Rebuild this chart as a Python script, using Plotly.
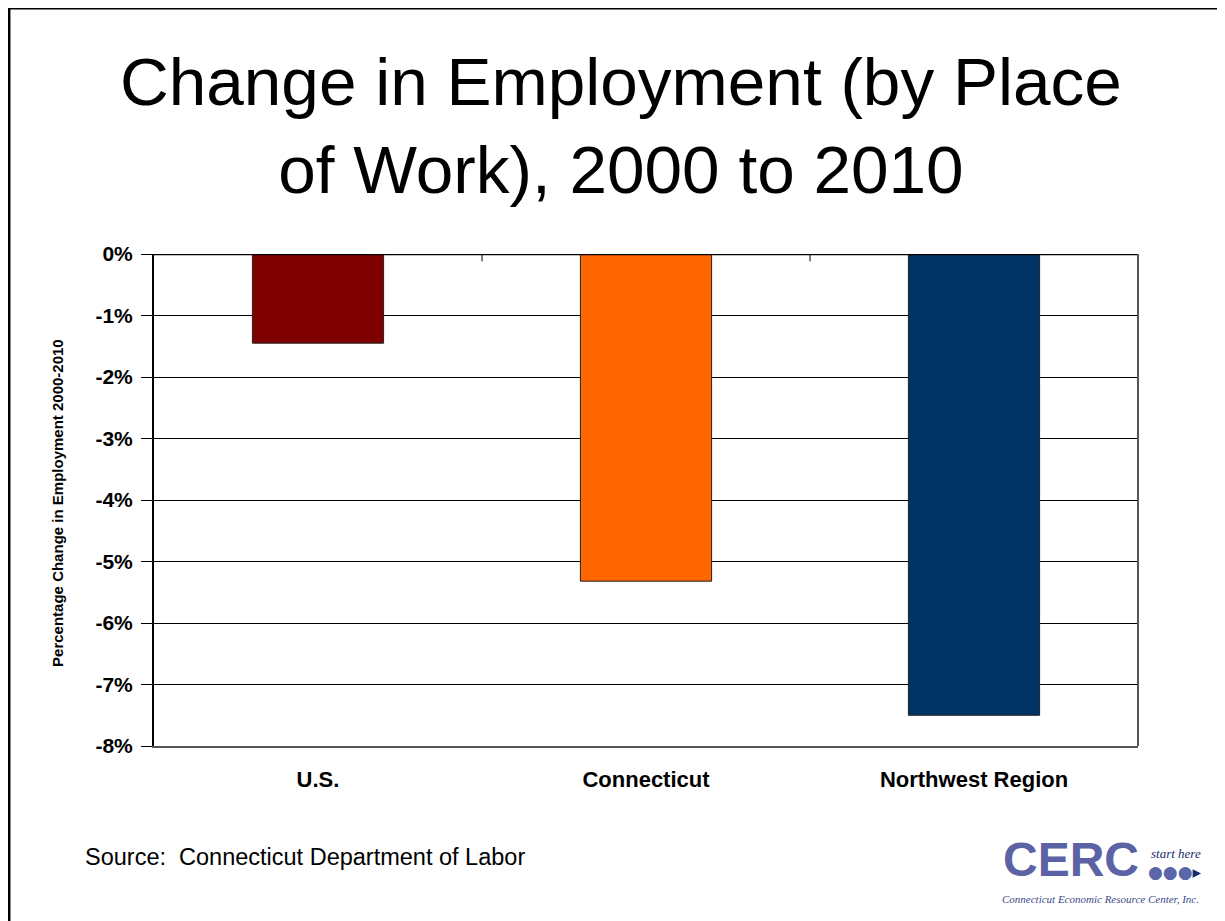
import plotly.graph_objects as go

# data
regions = ["U.S.", "Connecticut", "Northwest Region"]
pct_change = [-1.45, -5.32, -7.5]
bar_colors = ["#800000", "#FF6600", "#003366"]
y_ticks = [0, -1, -2, -3, -4, -5, -6, -7, -8]
y_tick_text = [f"{v}%" for v in y_ticks]

fig = go.Figure(go.Bar(
    x=regions,
    y=pct_change,
    width=0.4,
    marker=dict(color=bar_colors, line=dict(color="#222222", width=1)),
))

fig.update_layout(
    width=1225, height=921,
    margin=dict(l=146, r=95, t=246, b=183),
    paper_bgcolor="white", plot_bgcolor="white",
    font=dict(family="Liberation Sans, Arial", color="black"),
    showlegend=False,
    xaxis=dict(
        showgrid=False, ticks="", zeroline=False,
        showline=True, linecolor="#555555", linewidth=2, mirror=False,
        tickfont=dict(size=22, family="Liberation Sans, Arial", weight="bold"),
        ticklabelstandoff=13,
    ),
    yaxis=dict(
        range=[-8, 0], tickvals=y_ticks, ticktext=y_tick_text,
        showgrid=True, gridcolor="black", gridwidth=1,
        zeroline=False,
        showline=True, linecolor="black", linewidth=2,
        ticks="outside", ticklen=11, tickcolor="black", tickwidth=1,
        tickfont=dict(size=21, family="Liberation Sans, Arial", weight="bold"),
        ticklabelstandoff=4,
    ),
)

# top zero line, right plot border, category separators on the zero line
fig.add_shape(type="line", xref="paper", yref="y", x0=0, x1=1, y0=0, y1=0,
              line=dict(color="black", width=2.5))
fig.add_shape(type="line", xref="paper", yref="paper", x0=1, x1=1, y0=0, y1=1,
              line=dict(color="#555555", width=2))
for b in [0.5, 1.5]:
    fig.add_shape(type="line", xref="x", yref="y", x0=b, x1=b, y0=0, y1=-0.12,
                  line=dict(color="black", width=1))

# slide frame (top and left edge)
fig.add_shape(type="line", xref="paper", yref="paper", x0=-0.1474, x1=1.1, y0=1.5, y1=1.5,
              line=dict(color="black", width=3))
fig.add_shape(type="line", xref="paper", yref="paper", x0=-0.1474, x1=-0.1474, y0=1.503, y1=-0.4,
              line=dict(color="black", width=3))

# title
fig.add_annotation(
    text="Change in Employment (by Place<br>of Work), 2000 to 2010",
    xref="paper", yref="paper", x=0.4746, y=1.43, xanchor="center", yanchor="top",
    showarrow=False, font=dict(size=67.5, family="Liberation Sans, Arial", color="black"),
)

# y axis title
fig.add_annotation(
    text="Percentage Change in Employment 2000-2010",
    xref="paper", yref="paper", x=-0.0976, y=0.494, xanchor="center", yanchor="middle",
    textangle=-90, showarrow=False,
    font=dict(size=15, family="Liberation Sans, Arial", weight="bold"),
)

# source note
fig.add_annotation(
    text="Source:  Connecticut Department of Labor",
    xref="paper", yref="paper", x=-0.0722, y=-0.225, xanchor="left", yanchor="middle",
    showarrow=False, font=dict(size=23.5, family="Liberation Sans, Arial"),
)

# CERC logo, approximated with text
fig.add_annotation(
    text="CERC", xref="paper", yref="paper", x=0.932, y=-0.2317,
    xanchor="center", yanchor="middle", showarrow=False,
    font=dict(size=48, family="Liberation Sans, Arial", color="#5b63a5", weight="bold"),
)
fig.add_annotation(
    text="<i>start here</i>", xref="paper", yref="paper", x=1.0386, y=-0.2195,
    xanchor="center", yanchor="middle", showarrow=False,
    font=dict(size=13, family="Liberation Serif, Times New Roman", color="#1a2a6c"),
)
fig.add_annotation(
    text="<span style='color:#5a67a8'>●●●</span>▸", xref="paper", yref="paper", x=1.0376, y=-0.256,
    xanchor="center", yanchor="middle", showarrow=False,
    font=dict(size=17, family="DejaVu Sans", color="#1a2a6c"),
)
fig.add_annotation(
    text="<i>Connecticut Economic Resource Center, Inc.</i>", xref="paper", yref="paper",
    x=0.9614, y=-0.311, xanchor="center", yanchor="middle", showarrow=False,
    font=dict(size=11, family="Liberation Serif, Times New Roman", color="#3a4a8a"),
)

fig.write_html("out.html")
